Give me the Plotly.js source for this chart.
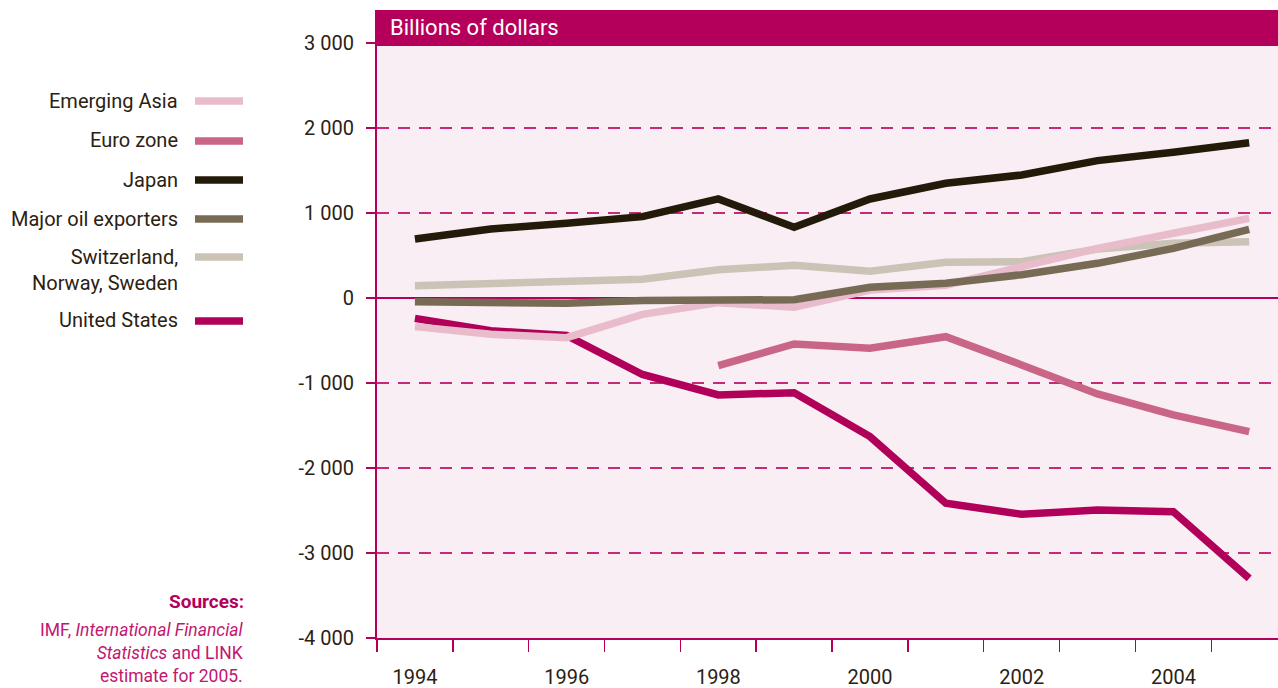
<!DOCTYPE html>
<html>
<head>
<meta charset="utf-8">
<script src="https://cdn.plot.ly/plotly-3.0.1.min.js"></script>
<style>
html,body{margin:0;padding:0;background:#fff;}
#chart{width:1278px;height:688px;}
</style>
</head>
<body>
<div id="chart"></div>
<script>
const years = [1994,1995,1996,1997,1998,1999,2000,2001,2002,2003,2004,2005];
const emergingAsia = [-337,-427,-467,-192,-55,-110,94,150,369,584,761,937];
const euroZone = [null,null,null,null,-796,-541,-592,-455,-788,-1129,-1376,-1573];
const japan = [694,812,878,957,1165,831,1165,1349,1447,1616,1714,1827];
const oilExporters = [-43,-63,-63,-31,-31,-20,126,173,274,408,584,808];
const switzNorSwe = [145,173,192,220,333,384,314,420,427,576,643,662];
const unitedStates = [-240,-385,-440,-900,-1141,-1114,-1631,-2415,-2545,-2494,-2514,-3298];

const seriesNames = ["Emerging Asia","Euro zone","Japan","Major oil exporters","Switzerland,<br>Norway, Sweden","United States"];
const seriesColors = ["#e9bccb","#c96587","#231a0a","#776b56","#cbc3b5","#b0005a"];
const seriesData = [emergingAsia, euroZone, japan, oilExporters, switzNorSwe, unitedStates];
const drawOrder = [5,1,4,0,3,2];

const yTicks = [-4000,-3000,-2000,-1000,0,1000,2000,3000];
const yTickText = ["-4 000","-3 000","-2 000","-1 000","0","1 000","2 000","3 000"];
const xTickVals = [1993.5,1994.5,1995.5,1996.5,1997.5,1998.5,1999.5,2000.5,2001.5,2002.5,2003.5,2004.5];
const xTickText = ["1994","","1996","","1998","","2000","","2002","","2004",""];

const MAG = "#b5005b";
const traces = drawOrder.map(i => ({
  x: years, y: seriesData[i], type: "scatter", mode: "lines",
  name: seriesNames[i], connectgaps: false,
  line: {color: seriesColors[i], width: 7.5},
  hoverinfo: "skip"
}));

const L = 377, R = 0, T = 10, B = 50;
const W = 1278, H = 688;
const pw = W - L - R, ph = H - T - B;
const px = x => (x - L) / pw;
const py = y => (H - B - y) / ph;

const FONT_N = "Liberation Sans Narrow, Arial Narrow, Roboto, sans-serif";
const legendY = [101,141,180,219,257,321];
const legendTextY = [101,140,180,219,270,320];
const shapes = [
  {type:"rect", xref:"paper", yref:"paper", x0:0, x1:1, y0:py(46), y1:1.0, fillcolor:MAG, line:{width:0}, layer:"above"}
];
const annotations = [
  {xref:"paper", yref:"paper", x:0, y:py(28), xanchor:"left", yanchor:"middle", xshift:11,
   text:"Billions of dollars", showarrow:false, font:{family:"Roboto, sans-serif", size:22, color:"#ffffff"}}
];
seriesNames.forEach((n,i) => {
  shapes.push({type:"line", xref:"paper", yref:"paper", x0:px(195), x1:px(243), y0:py(legendY[i]), y1:py(legendY[i]),
    line:{color:seriesColors[i], width:7.5}});
  annotations.push({xref:"paper", yref:"paper", x:px(180), y:py(legendTextY[i]), xanchor:"right", yanchor:"middle",
    align:"right", text:n, showarrow:false,
    font:{family:FONT_N, size:20, color:"#2b2112"}});
});
annotations.push({xref:"paper", yref:"paper", x:px(246), y:py(601), xanchor:"right", yanchor:"middle",
  text:"<b>Sources:</b>", showarrow:false, font:{family:FONT_N, size:19, color:MAG}});
annotations.push({xref:"paper", yref:"paper", x:px(246), y:py(618), xanchor:"right", yanchor:"top", align:"right",
  text:"IMF, <i>International Financial</i><br><i>Statistics</i> and LINK<br>estimate for 2005.", showarrow:false,
  font:{family:FONT_N, size:17.5, color:"#c2166f"}});

const layout = {
  width: W, height: H,
  margin: {l:L, r:R, t:T, b:B, pad:0},
  paper_bgcolor: "#ffffff",
  plot_bgcolor: "#f9eef3",
  showlegend: false,
  xaxis: {
    range: [1993.5, 2005.38], tickmode:"array", tickvals:xTickVals, ticktext:xTickText,
    ticks:"outside", ticklen:12, tickwidth:1.5, tickcolor:MAG,
    ticklabelshift: 38, ticklabelstandoff: 8,
    showgrid:false, zeroline:false, showline:true, linecolor:MAG, linewidth:2,
    tickfont:{family:"Roboto, sans-serif", size:20, color:"#2b2112"}, fixedrange:true
  },
  yaxis: {
    range: [-4000, 3388], tickmode:"array", tickvals:yTicks, ticktext:yTickText,
    ticks:"outside", ticklen:9, tickwidth:1.5, tickcolor:MAG, ticklabelstandoff: 8,
    showgrid:true, gridcolor:"#c42a78", gridwidth:1.2, griddash:"12px,9px",
    zeroline:true, zerolinecolor:MAG, zerolinewidth:2,
    showline:true, linecolor:MAG, linewidth:2,
    tickfont:{family:"Roboto, sans-serif", size:20, color:"#2b2112"}, fixedrange:true
  },
  shapes: shapes,
  annotations: annotations
};

Plotly.newPlot("chart", traces, layout, {displayModeBar:false, staticPlot:true});
</script>
</body>
</html>
